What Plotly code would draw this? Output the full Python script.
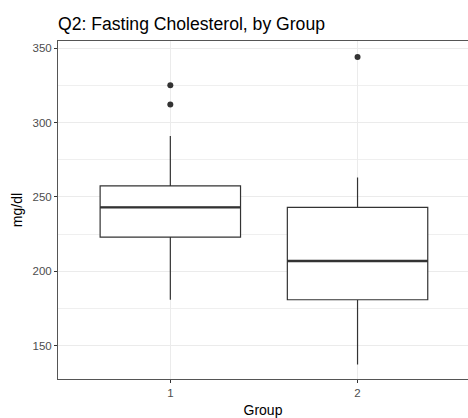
import plotly.graph_objects as go

groups = [1, 2]
group_labels = ["1", "2"]
q1 = [223, 181]
median = [243, 207]
q3 = [257.5, 243]
lower_whisker = [181, 137.5]
upper_whisker = [291, 263]
outlier_x = [1, 1, 2]
outlier_y = [325, 312, 344]

box_width = 0.75
line_col = "#333333"

fig = go.Figure()
fig.add_trace(go.Box(
    x=groups, q1=q1, median=median, q3=q3,
    lowerfence=lower_whisker, upperfence=upper_whisker,
    width=box_width, whiskerwidth=0,
    fillcolor="white", line=dict(color=line_col, width=1.2),
    boxpoints=False, showlegend=False, hoverinfo="skip",
))
# thicker median lines (ggplot fatten)
for g, m in zip(groups, median):
    fig.add_trace(go.Scatter(
        x=[g - box_width / 2, g + box_width / 2], y=[m, m], mode="lines",
        line=dict(color=line_col, width=2.4), showlegend=False, hoverinfo="skip",
    ))
fig.add_trace(go.Scatter(
    x=outlier_x, y=outlier_y, mode="markers",
    marker=dict(color=line_col, size=6), showlegend=False,
))

fig.update_layout(
    width=468, height=418,
    margin=dict(l=58, r=0, t=41, b=39),
    paper_bgcolor="white", plot_bgcolor="white",
    font=dict(family="Liberation Sans, Arial, sans-serif", color="black"),
    title=dict(text="Q2: Fasting Cholesterol, by Group", x=58 / 468, xanchor="left",
               y=1 - 24 / 418, yanchor="middle", font=dict(size=17.6, color="black")),
    xaxis=dict(
        range=[0.4, 2.59], tickvals=groups, ticktext=group_labels, automargin=False,
        showgrid=True, gridcolor="#EBEBEB", gridwidth=1,
        zeroline=False, showline=True, linecolor="#555555", linewidth=1, mirror=True,
        ticks="outside", ticklen=3, tickcolor="#333333",
        tickfont=dict(size=11.5, color="#4D4D4D"),
        title=dict(text="Group", font=dict(size=14, color="black"), standoff=8),
    ),
    yaxis=dict(
        range=[127.8, 354.7], tickvals=[150, 200, 250, 300, 350], automargin=False,
        showgrid=True, gridcolor="#EBEBEB", gridwidth=1,
        minor=dict(tickvals=[175, 225, 275, 325], showgrid=True, gridcolor="#EFEFEF", gridwidth=0.7, ticks=""),
        zeroline=False, showline=True, linecolor="#555555", linewidth=1, mirror=False,
        ticks="outside", ticklen=3, tickcolor="#333333",
        tickfont=dict(size=11.5, color="#4D4D4D"),
        title=dict(text="mg/dl", font=dict(size=14, color="black"), standoff=6),
    ),
)

fig.write_html("out.html", config={"displayModeBar": False},
               post_script="document.body.style.margin='0';document.body.style.overflow='hidden';")
